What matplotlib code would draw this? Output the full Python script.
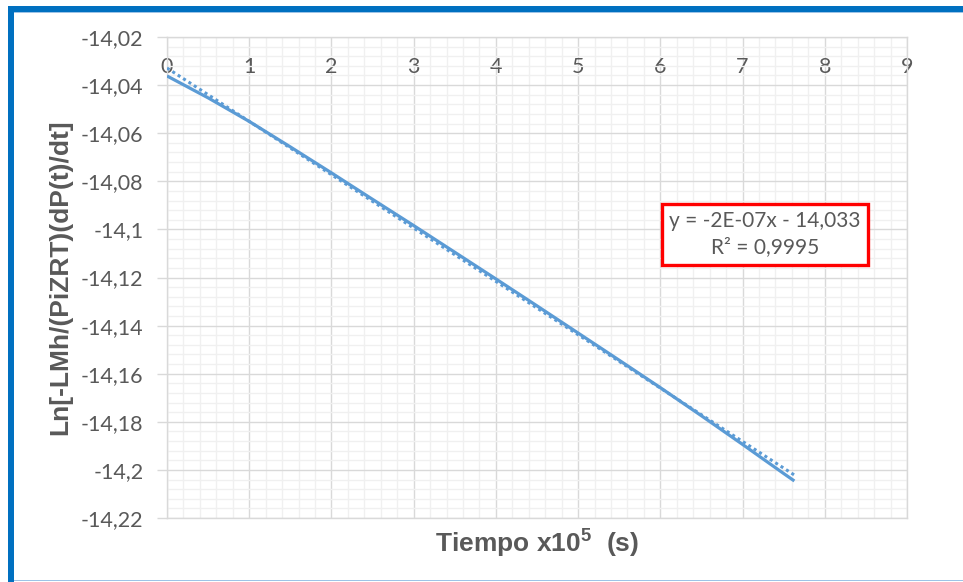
import matplotlib
matplotlib.use("Agg")
import matplotlib.pyplot as plt
from matplotlib.ticker import MultipleLocator, FixedLocator, FixedFormatter
from matplotlib.patches import Rectangle
import numpy as np

# ---- data ----
tiempo = [0.0, 0.5, 1.0, 1.5, 2.0, 2.5, 3.0, 3.5, 4.0, 4.5, 5.0, 5.5, 6.0, 6.5, 7.0, 7.5, 7.63]
ln_values = [-14.0362, -14.0453, -14.0551, -14.0657, -14.0765, -14.0875, -14.0984, -14.1095,
             -14.1206, -14.1318, -14.1431, -14.1544, -14.1658, -14.1775, -14.1894, -14.2015, -14.2046]
trend_intercept = -14.0329
trend_slope = -0.02218
x_ticks = [0, 1, 2, 3, 4, 5, 6, 7, 8, 9]
x_tick_labels = ["0", "1", "2", "3", "4", "5", "6", "7", "8", "9"]
y_ticks = [-14.22, -14.20, -14.18, -14.16, -14.14, -14.12, -14.10, -14.08, -14.06, -14.04, -14.02]
y_tick_labels = ["-14,22", "-14,2", "-14,18", "-14,16", "-14,14", "-14,12", "-14,1",
                 "-14,08", "-14,06", "-14,04", "-14,02"]
equation_text = "y = -2E-07x - 14,033\nR² = 0,9995"
x_label = r"Tiempo x10$^{\mathbf{5}}$  (s)"
y_label = "Ln[-LMh/(PiZRT)(dP(t)/dt]"

plt.rcParams["mathtext.fontset"] = "custom"
plt.rcParams["mathtext.bf"] = "Liberation Sans:bold"
plt.rcParams["mathtext.rm"] = "Liberation Sans:bold"

W, H = 963, 582
fig = plt.figure(figsize=(W / 100, H / 100), dpi=100)
fig.patch.set_facecolor("white")

# Frame decoration (blue border)
fig.add_artist(Rectangle((8 / W, 0), 6 / W, 1 - 6 / H, transform=fig.transFigure,
                         facecolor="#0070c0", edgecolor="none"))
fig.add_artist(Rectangle((8 / W, 1 - 12 / H), 1 - 8 / W, 6 / H, transform=fig.transFigure,
                         facecolor="#0070c0", edgecolor="none"))
fig.add_artist(Rectangle((14 / W, 1 - 13 / H), 1 - 14 / W, 1.2 / H, transform=fig.transFigure,
                         facecolor="#9dc3e6", edgecolor="none"))
fig.add_artist(Rectangle((14 / W, 1 / H), 1 - 14 / W, 1.5 / H, transform=fig.transFigure,
                         facecolor="#9dc3e6", edgecolor="none"))

ax = fig.add_axes([167 / W, 1 - 518 / H, 740 / W, 481 / H])
ax.set_xlim(0, 9)
ax.set_ylim(-14.22, -14.02)

grid_major = "#d9d9d9"
grid_minor = "#f0f0f0"
ax.xaxis.set_major_locator(FixedLocator(x_ticks))
ax.xaxis.set_major_formatter(FixedFormatter(x_tick_labels))
ax.yaxis.set_major_locator(FixedLocator(y_ticks))
ax.yaxis.set_major_formatter(FixedFormatter(y_tick_labels))
ax.xaxis.set_minor_locator(MultipleLocator(0.2))
ax.yaxis.set_minor_locator(MultipleLocator(0.004))
ax.grid(True, which="minor", color=grid_minor, linewidth=1.0, zorder=0)
ax.grid(True, which="major", color=grid_major, linewidth=1.0, zorder=0.5)
ax.set_axisbelow(True)
for s in ax.spines.values():
    s.set_color(grid_major)
    s.set_linewidth(1.0)

tick_font = dict(family=["Lato", "DejaVu Sans"], size=15.5)
ax.tick_params(axis="x", which="both", bottom=False, top=False, labelbottom=False,
               labeltop=True, length=0, pad=-28.5, labelcolor="#595959")
ax.tick_params(axis="x", which="minor", labeltop=False)
ax.tick_params(axis="y", which="major", length=7, color=grid_major, width=1.0,
               pad=10, labelcolor="#595959")
ax.tick_params(axis="y", which="minor", length=0)
for lab in ax.get_xticklabels() + ax.get_yticklabels():
    lab.set_fontfamily(tick_font["family"])
    lab.set_fontsize(tick_font["size"])

line_color = "#5b9bd5"
ax.plot(tiempo, ln_values, color=line_color, linewidth=2.3, solid_capstyle="butt", zorder=3)
trend_x = np.array([tiempo[0], tiempo[-1]])
trend_y = trend_intercept + trend_slope * trend_x
ax.plot(trend_x, trend_y, color=line_color, linewidth=2.2, linestyle=(0, (1, 1.1)),
        dash_capstyle="butt", zorder=2.9)

label_font = dict(family=["Liberation Sans", "DejaVu Sans"], size=19, weight="bold", color="#595959")
ax.set_xlabel(x_label, labelpad=6, **label_font)
ax.set_ylabel(y_label, labelpad=6, **label_font)

ax.text(0.808, 0.59, equation_text, transform=ax.transAxes, ha="center", va="center",
        family=["Lato", "DejaVu Sans"], fontsize=15, color="#595959", linespacing=1.4,
        bbox=dict(boxstyle="square,pad=0.35", facecolor="white", edgecolor="#ff0000",
                  linewidth=2.4), zorder=5)

fig.savefig("out.png", dpi=100, facecolor="white")
